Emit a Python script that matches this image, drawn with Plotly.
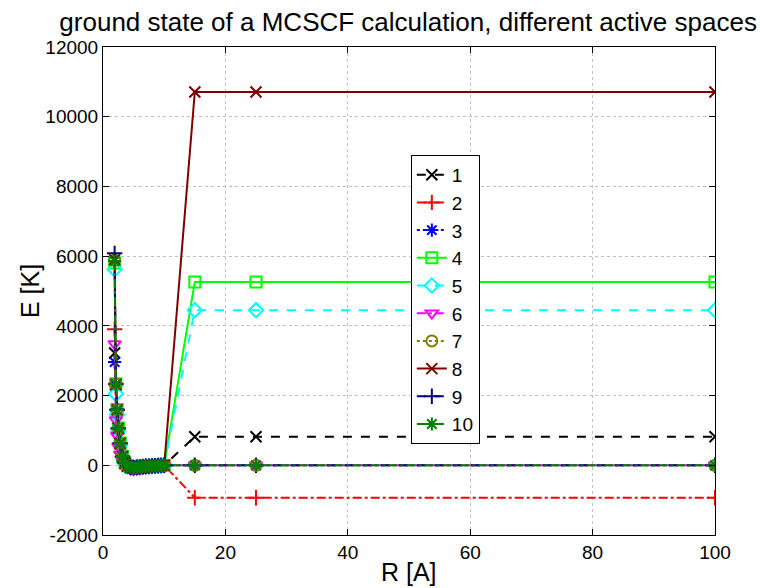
import plotly.graph_objects as go

R = [1.9, 2.1, 2.3, 2.5, 2.8, 3.2, 3.6, 4.0, 4.5, 5.0, 5.5, 6.0, 6.5, 7.0, 7.5,
     8.0, 8.5, 9.0, 9.5, 10.0, 15, 25, 100]

E1 = [3220, 2300, 1560, 1040, 610, 240, 50, -25, -60, -70, -60, -50, -40, -30, -25,
      -20, -15, -10, -5, 0, 820, 820, 820]
E2 = [3900, 2320, 1580, 1050, 620, 245, 55, -20, -55, -65, -55, -45, -35, -30, -25,
      -20, -15, -10, -5, 0, -930, -930, -930]
E3 = [2960, 2280, 1550, 1030, 600, 235, 50, -25, -60, -70, -60, -50, -40, -30, -25,
      -20, -15, -10, -5, 0, 0, 0, 0]
E4 = [5800, 2340, 1600, 1070, 640, 255, 65, -15, -55, -65, -55, -45, -35, -30, -25,
      -20, -15, -10, -5, 0, 5260, 5260, 5260]
E5 = [5620, 2050, 1450, 980, 580, 230, 50, -25, -65, -75, -65, -55, -45, -35, -30,
      -25, -20, -15, -10, 0, 4450, 4450, 4450]
E6 = [3480, 1300, 850, 540, 320, 120, 20, -60, -110, -120, -110, -100, -90, -80, -70,
      -60, -50, -40, -30, 0, 0, 0, 0]
E7 = [5880, 2330, 1590, 1060, 630, 250, 60, -20, -60, -70, -60, -50, -40, -30, -25,
      -20, -15, -10, -5, 0, 0, 0, 0]
E8 = [5900, 2320, 1590, 1060, 630, 250, 60, -20, -60, -70, -60, -50, -40, -30, -25,
      -20, -15, -10, -5, 0, 10710, 10710, 10710]
E9 = [6080, 2340, 1600, 1065, 635, 252, 62, -18, -58, -68, -58, -48, -38, -28, -23,
      -18, -13, -8, -3, 0, 0, 0, 0]
E10 = [5860, 2330, 1590, 1060, 630, 250, 60, -20, -60, -70, -60, -50, -40, -30, -25,
       -20, -15, -10, -5, 0, 0, 0, 0]

names = ["1", "2", "3", "4", "5", "6", "7", "8", "9", "10"]
series = [E1, E2, E3, E4, E5, E6, E7, E8, E9, E10]
colors = ["#000000", "#ff0000", "#0000ff", "#00ff00", "#00ffff", "#ff00ff",
          "#808000", "#800000", "#000080", "#008000"]
dashes = ["dash", "dashdot", "dot", "solid", "dash", "dashdot", "dot", "solid",
          "dash", "dashdot"]
symbols = ["x-thin-open", "cross-thin-open", "asterisk-open", "square-open",
           "diamond-open", "triangle-down-open", "circle-open", "x-thin-open",
           "cross-thin-open", "asterisk-open"]

xticks = [0, 20, 40, 60, 80, 100]
yticks = [-2000, 0, 2000, 4000, 6000, 8000, 10000, 12000]
xticklabels = ["0", "20", "40", "60", "80", "100"]
yticklabels = ["-2000", "0", "2000", "4000", "6000", "8000", "10000", "12000"]

fig = go.Figure()
for n, y, c, d, s in zip(names, series, colors, dashes, symbols):
    fig.add_trace(go.Scatter(
        x=R, y=y, name=n, mode="lines+markers",
        line=dict(color=c, dash=d, width=2),
        marker=dict(symbol=s, size=11, color=c, line=dict(color=c, width=2)),
    ))

font = "Liberation Sans, Arial, sans-serif"
axis_common = dict(
    showline=True, linecolor="black", linewidth=1, mirror="ticks",
    ticks="inside", ticklen=6, tickcolor="black", automargin=False,
    showgrid=True, gridcolor="#c0c0c0", griddash="dot", gridwidth=1,
    zeroline=False, tickfont=dict(size=19, color="black", family=font),
)

fig.update_layout(
    width=760, height=588,
    margin=dict(l=103, r=45, t=47, b=53),
    paper_bgcolor="white", plot_bgcolor="white",
    font=dict(family=font, color="black"),
    title=dict(text="ground state of a MCSCF calculation, different active spaces",
               x=0.537, xanchor="center", y=0.962, yanchor="middle",
               font=dict(size=26, color="black", family=font)),
    xaxis=dict(range=[0, 100], tickvals=xticks, ticktext=xticklabels,
               **axis_common),
    yaxis=dict(range=[-2000, 12000], tickvals=yticks, ticktext=yticklabels,
               **axis_common),
    legend=dict(x=0.503, y=0.779, xanchor="left", yanchor="top",
                bgcolor="white", bordercolor="black", borderwidth=1,
                font=dict(size=19, color="black", family=font),
                itemwidth=30, tracegroupgap=0),
    annotations=[
        dict(text="R [A]", xref="paper", yref="paper", x=0.5, y=0,
             xanchor="center", yanchor="middle", yshift=-37, showarrow=False,
             font=dict(size=25, color="black", family=font)),
        dict(text="E [K]", xref="paper", yref="paper", x=0, y=0.5,
             xanchor="center", yanchor="middle", xshift=-73, showarrow=False,
             textangle=-90, font=dict(size=25, color="black", family=font)),
    ],
)

fig.write_html("out.html")
